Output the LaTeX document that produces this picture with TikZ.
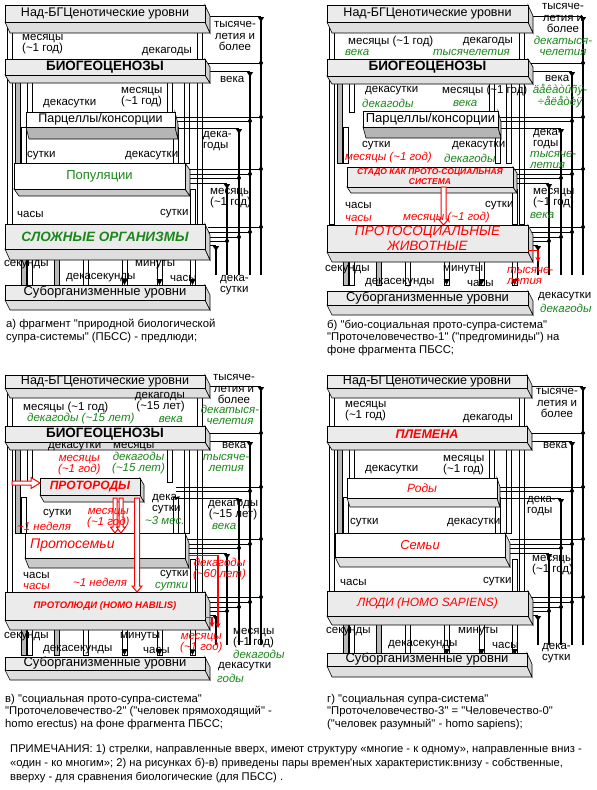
\documentclass[tikz,border=0pt]{standalone}
\usepackage{fontspec}
\defaultfontfeatures[\rmfamily]{}
\setmainfont{Liberation Sans}
\usetikzlibrary{calc,arrows.meta}

\definecolor{grn}{RGB}{25,135,25}

% fonts of the level slabs
\newcommand\fnttop{\fontsize{12.5}{13}\selectfont}
\newcommand\fntbgc{\fontsize{13.5}{14}\selectfont\bfseries}
\newcommand\fntmid{\fontsize{13}{14}\selectfont}
\newcommand\fntorg{\fontsize{13.5}{14}\selectfont\bfseries\itshape}
\newcommand\fntsub{\fontsize{13}{14}\selectfont}
\newcommand\apx{\textasciitilde}

\tikzset{
  lbl/.style={inner sep=0pt, align=left, font=\fontsize{11.5}{11.5}\selectfont},
  glbl/.style={lbl, text=grn, font=\fontsize{11.5}{11}\selectfont\itshape},
  rlbl/.style={lbl, text=red, font=\fontsize{11.5}{11}\selectfont\itshape},
  caption/.style={lbl, font=\fontsize{11.3}{12.5}\selectfont},
  notes/.style={lbl, font=\fontsize{11.2}{14}\selectfont},
  slab/.style={draw, inner sep=0pt, line width=0.6pt},
  slabedge/.style={draw, line width=0.6pt},
  face lt/.style={fill=gray!16}, bottom lt/.style={fill=gray!26}, side lt/.style={fill=gray!36},
  face dk/.style={fill=white}, bottom dk/.style={fill=gray!58}, side dk/.style={fill=gray!45},
  face md/.style={fill=white}, bottom md/.style={fill=gray!42}, side md/.style={fill=gray!36},
  face wl/.style={fill=white}, bottom wl/.style={fill=gray!24}, side wl/.style={fill=gray!32},
  pillar/.style={draw, line width=0.5pt},
  feed/.style={line width=0.6pt},
  busline/.style={line width=2.2pt},
  redhollow/.style={draw=red, fill=white, line width=1pt},
  redline/.style={red, line width=1.2pt, -{Stealth[length=5pt,width=5pt]}},
}

% slab: type, name, x1, y1, x2, y2, depth, text options, text
\newcommand\slab[9]{%
  \filldraw[slabedge, bottom #1] (#3,#6) -- (#5,#6) -- ++(#7) -- ($(#3,#6)+(#7)$) -- cycle;
  \filldraw[slabedge, side #1] (#5,#4) -- ++(#7) -- ($(#5,#6)+(#7)$) -- (#5,#6) -- cycle;
  \node[slab, face #1, minimum width={(#5-#3)*1pt}, minimum height={(#6-#4)*1pt}, #8]
    (#2) at ({(#3+#5)/2},{(#4+#6)/2}) {#9};
}
\newcommand\pillar[4][white]{\filldraw[pillar, fill=#1] (#2,#3) rectangle ({#2+5},#4);}
\newcommand\redpipe[4][2]{%
  \draw[redhollow] ({#2-#1},#3) -- ({#2-#1},{#4-6}) -- ({#2-#1-2.5},{#4-6}) -- (#2,#4)
    -- ({#2+#1+2.5},{#4-6}) -- ({#2+#1},{#4-6}) -- ({#2+#1},#3) -- cycle;}

% columns between the levels
\newcommand\basepillars{%
  \pillar{7}{22}{224}
  \pillar{197}{22}{224}
  \pillar{27}{75}{112}
  \pillar{167}{75}{112}
  \pillar[gray!55]{15}{75}{163}
  \pillar{184}{75}{163}
  \pillar{21}{127}{163}
  \pillar{173}{127}{163}
  \pillar{190}{189}{224}
  \pillar[gray!55]{21}{249}{285}
  \pillar{27}{249}{285}
  \pillar[gray!55]{54}{249}{285}
  \pillar{83}{249}{285}
  \pillar{122}{249}{285}
  \pillar{157}{249}{285}
  \pillar{190}{249}{285}
  \foreach \tx in {124.5,159.5,192.5}
    \fill ({\tx-3},279) -- ({\tx+3},279) -- (\tx,285) -- cycle;
}

% time buses on the right
\newcommand\bus{%
  \foreach \bx/\by/\sx in {261/16/208, 250/71/208, 239/128/176, 227/183/188, 216/245/208}{
    \draw[feed] (\sx,\by) -- (\bx,\by);
    \draw[busline, {Triangle[reversed, width=6pt, length=5pt]}-] (\bx,{\by+1}) -- (\bx,275);
  }
  \foreach \cy/\sx/\bx in {63/208/261, 117/176/261, 121/176/250, 169/188/261, 174/188/250,
      178/188/239, 227/208/261, 232/208/250, 237/208/239, 241/208/227}{
    \draw[feed] (\sx,\cy) -- (\bx,\cy);
    \fill (\bx,\cy) circle (2pt);
  }
}

\begin{document}
\begin{tikzpicture}[x=1pt, y=-1pt, >=Stealth]
\useasboundingbox[fill=white] (0,0) rectangle (597,790);

% a) natural biological supra-system
\begin{scope}
  \basepillars
  \bus
  \slab{lt}{a-top}{5}{5}{205}{22}{5,11}{font=\fnttop}{Над-БГЦенотические уровни}
  \slab{lt}{a-bgc}{5}{59}{205}{75}{5,8}{font=\fntbgc}{БИОГЕОЦЕНОЗЫ}
  \slab{dk}{a-parc}{26}{112}{175}{127}{3,12}{font=\fnttop}{Парцеллы/консорции}
  \slab{md}{a-pop}{14}{163}{185}{189}{5,7}{font=\fntmid, text=grn}{Популяции}
  \slab{lt}{a-org}{5}{224}{205}{249}{5,11}{font=\fntorg, text=grn}{СЛОЖНЫЕ ОРГАНИЗМЫ}
  \slab{lt}{a-sub}{5}{285}{205}{300}{5,10}{font=\fntsub}{Суборганизменные уровни}

  \node[lbl, anchor=west] (a-m1) at (22,44) {месяцы\\(\apx1 год)};
  \node[lbl, anchor=east] (a-d1) at (192,52) {декагоды};
  \node[lbl, align=center] (a-t1) at (235,36) {тысяче-\\летия и\\более};
  \node[lbl, anchor=west] (a-v1) at (220,79) {века};
  \node[lbl, anchor=west] (a-ds1) at (43,104) {декасутки};
  \node[lbl, anchor=west] (a-m2) at (121,97) {месяцы\\(\apx1 год)};
  \node[lbl, anchor=west] (a-dg1) at (203,141) {дека-\\годы};
  \node[lbl, anchor=west] (a-s1) at (27,156) {сутки};
  \node[lbl, anchor=west] (a-ds2) at (125,156) {декасутки};
  \node[lbl, anchor=west] (a-m3) at (210,198) {месяцы\\(\apx1 год)};
  \node[lbl, anchor=west] (a-h1) at (17,214) {часы};
  \node[lbl, anchor=west] (a-s2) at (160,214) {сутки};
  \node[lbl, anchor=west] (a-sec) at (4,265) {секунды};
  \node[lbl, anchor=west] (a-min) at (135,265) {минуты};
  \node[lbl, anchor=west] (a-dsec) at (66,278) {декасекунды};
  \node[lbl, anchor=west] (a-h2) at (170,278) {часы};
  \node[lbl, anchor=west] (a-ds3) at (220,285) {дека-\\сутки};
  \node[caption, anchor=north west] (a-cap) at (6,319) {а) фрагмент "природной биологической\\супра-системы" (ПБСС) - предлюди;};
\end{scope}

% b) bio-social proto-supra-system
\begin{scope}[shift={(322,0)}]
  \basepillars
  \bus
  \slab{lt}{b-top}{5}{5}{206}{22}{5,11}{font=\fnttop}{Над-БГЦенотические уровни}
  \slab{lt}{b-bgc}{5}{59}{206}{76}{5,8}{font=\fntbgc}{БИОГЕОЦЕНОЗЫ}
  \slab{dk}{b-parc}{41}{111}{176}{127}{3,11}{font=\fntsub}{Парцеллы/консорции}
  \slab{lt}{b-herd}{25}{167}{191}{187}{4,6}{font=\fontsize{8.5}{10}\selectfont\bfseries\itshape, text=red, align=center}{СТАДО КАК ПРОТО-СОЦИАЛЬНАЯ\\СИСТЕМА}
  \slab{lt}{b-anim}{5}{225}{206}{252}{5,10}{}{}
  \slab{lt}{b-sub}{5}{291}{206}{305}{5,10}{font=\fntsub}{Суборганизменные уровни}
  \node[inner sep=0pt, align=center, text=red, font=\fontsize{13.5}{15}\selectfont\itshape] (b-animt) at (b-anim) {ПРОТОСОЦИАЛЬНЫЕ\\ЖИВОТНЫЕ};
  \redpipe[2.5]{121.5}{187}{225}
  \draw[redline] (b-anim.south east) ++(0,-2) -| (216,262);

  \node[lbl, anchor=west] (b-m1) at (26,42) {месяцы (\apx1 год)};
  \node[glbl, anchor=west] (b-m1g) at (23,52) {века};
  \node[lbl, anchor=east] (b-d1) at (191,42) {декагоды};
  \node[glbl, anchor=east] (b-d1g) at (188,52) {тысячелетия};
  \node[lbl, align=center] (b-t1) at (241,18) {тысяче-\\летия и\\более};
  \node[glbl, align=center] (b-t1g) at (241,46) {декатыся-\\челетия};
  \node[lbl, anchor=west] (b-v1) at (223,78) {века};
  \node[glbl, align=center] (b-v1g) at (238,96) {äåêàòûñÿ-\\÷åëåòèÿ};
  \node[lbl, anchor=west] (b-ds1) at (43,91) {декасутки};
  \node[glbl, anchor=west] (b-ds1g) at (40,103) {декагоды};
  \node[lbl, anchor=west] (b-m2) at (120,91) {месяцы (\apx1 год)};
  \node[glbl, anchor=west] (b-m2g) at (131,103) {века};
  \node[lbl, anchor=west] (b-dg1) at (211,139) {дека-\\годы};
  \node[glbl, anchor=west] (b-dg1g) at (208,160) {тысяче-\\летия};
  \node[lbl, anchor=west] (b-s1) at (40,146) {сутки};
  \node[rlbl, anchor=west] (b-s1r) at (23,158) {месяцы (\apx1 год)};
  \node[lbl, anchor=west] (b-ds2) at (130,146) {декасутки};
  \node[glbl, anchor=west] (b-ds2g) at (122,158) {декагоды};
  \node[lbl, anchor=west] (b-m3) at (211,198) {месяцы\\(\apx1 год)};
  \node[glbl, anchor=west] (b-m3g) at (208,215) {века};
  \node[lbl, anchor=west] (b-h1) at (23,205.5) {часы};
  \node[rlbl, anchor=west] (b-h1r) at (23,218) {часы};
  \node[lbl, anchor=west] (b-s2) at (163,206) {сутки};
  \node[rlbl, anchor=west] (b-s2r) at (81,218) {месяцы (\apx1 год)};
  \node[lbl, anchor=west] (b-sec) at (3,270) {секунды};
  \node[lbl, anchor=west] (b-min) at (121,270) {минуты};
  \node[lbl, anchor=west] (b-dsec) at (43,283) {декасекунды};
  \node[lbl, anchor=west] (b-h2) at (145,283) {часы};
  \node[rlbl, anchor=west] (b-t2) at (185,276) {тысяче-\\летия};
  \node[lbl, anchor=west] (b-ds3) at (216,297) {декасутки};
  \node[glbl, anchor=west] (b-ds3g) at (218,308) {декагоды};
  \node[caption, anchor=north west] (b-cap) at (5,320) {б) "био-социальная прото-супра-система"\\"Проточеловечество-1" ("предгоминиды") на\\фоне фрагмента ПБСС;};
\end{scope}

% c) social proto-supra-system
\begin{scope}[shift={(0,370)}]
  \basepillars
  \bus
  \slab{lt}{c-top}{5}{5}{205}{18}{5,10}{font=\fnttop}{Над-БГЦенотические уровни}
  \slab{lt}{c-bgc}{5}{56}{205}{72}{5,8}{font=\fntbgc}{БИОГЕОЦЕНОЗЫ}
  \slab{lt}{c-clan}{40}{108}{140}{125}{4,7}{font=\fontsize{12}{13}\selectfont\bfseries\itshape, text=red}{ПРОТОРОДЫ}
  \slab{md}{c-fam}{25}{163}{185}{188}{4,10}{}{}
  \slab{lt}{c-hum}{5}{222}{205}{250}{5,10}{font=\fontsize{9.5}{10}\selectfont\bfseries\itshape, text=red}{ПРОТОЛЮДИ (HOMO HABILIS)}
  \slab{lt}{c-sub}{5}{287}{205}{300}{5,10}{font=\fntsub}{Суборганизменные уровни}
  \node[inner sep=0pt, anchor=west, text=red, font=\fontsize{14}{15}\selectfont\itshape] (c-famt) at (30,175) {Протосемьи};
  \redpipe{115}{128}{163}
  \redpipe{121}{128}{163}
  \redpipe[2.5]{137}{128}{222}
  \draw[redhollow] (12,111) -- (31,111) -- (31,107.5) -- (40,113) -- (31,118.5) -- (31,115) -- (12,115) -- cycle;
  \draw[redline] (c-fam.east) ++(4,10) -| (218,258);
  \draw[redline] (c-hum.south east) ++(0,-3) -| (212,257);

  \node[lbl, anchor=west] (c-m1) at (23,38) {месяцы (\apx1 год)};
  \node[glbl, anchor=west] (c-m1g) at (27,49) {декагоды (\apx15 лет)};
  \node[lbl, anchor=east, align=right] (c-d1) at (185,32) {декагоды\\(\apx15 лет)};
  \node[glbl, anchor=east] (c-d1g) at (183,49) {века};
  \node[lbl, align=center] (c-t1) at (234,19) {тысяче-\\летия и\\более};
  \node[glbl, align=center] (c-t1g) at (230,45) {декатыся-\\челетия};
  \node[lbl, anchor=west] (c-ds1) at (48,77) {декасутки};
  \node[lbl, anchor=west] (c-m2) at (113,77) {месяцы};
  \node[rlbl, anchor=west, align=center] (c-m2r) at (58,95) {месяцы\\(\apx1 год)};
  \node[glbl, anchor=west, align=center] (c-m2g) at (112,93) {декагоды\\(\apx15 лет)};
  \node[lbl, anchor=west] (c-v1) at (222,75) {века};
  \node[glbl, anchor=west, align=center] (c-v1g) at (203,93) {тысяче-\\летия};
  \node[lbl, anchor=west] (c-ds2) at (152,134) {дека-\\сутки};
  \node[glbl, anchor=west] (c-ds2g) at (145,151) {\apx3 мес.};
  \node[lbl, anchor=west, align=center] (c-dg1) at (208,140) {декагоды\\(\apx15 лет)};
  \node[glbl, anchor=west] (c-dg1g) at (212,156) {века};
  \node[lbl, anchor=west] (c-s1) at (43,144) {сутки};
  \node[rlbl, anchor=west] (c-s1r) at (17,156) {\apx1 неделя};
  \node[rlbl, anchor=west, align=center] (c-m3r) at (87,148) {месяцы\\(\apx1 год)};
  \node[lbl, anchor=west] (c-h1) at (23,205) {часы};
  \node[rlbl, anchor=west] (c-h1r) at (23,216) {часы};
  \node[rlbl, anchor=west] (c-w1) at (73,212) {\apx1 неделя};
  \node[lbl, anchor=west] (c-s2) at (160,205) {сутки};
  \node[glbl, anchor=west] (c-s2g) at (155,217) {сутки};
  \node[rlbl, anchor=west, align=center] (c-dg2r) at (193,199) {декагоды\\(\apx60 лет)};
  \node[lbl, anchor=west] (c-sec) at (4,267) {секунды};
  \node[lbl, anchor=west] (c-min) at (120,267) {минуты};
  \node[lbl, anchor=west] (c-dsec) at (43,280) {декасекунды};
  \node[lbl, anchor=west] (c-h2) at (143,280) {часы};
  \node[rlbl, anchor=west, align=center] (c-m4r) at (180,273) {месяцы\\(\apx1 год)};
  \node[lbl, anchor=west] (c-m4) at (233,268) {месяцы\\(\apx1 год)};
  \node[glbl, anchor=west] (c-m4g) at (233,284) {декагоды};
  \node[lbl, anchor=west] (c-ds3) at (218,297) {декасутки};
  \node[glbl, anchor=west] (c-ds3g) at (217,308) {годы};
  \node[caption, anchor=north west] (c-cap) at (5,324) {в) "социальная прото-супра-система"\\"Проточеловечество-2" ("человек прямоходящий" -\\homo erectus) на фоне фрагмента ПБСС;};
\end{scope}

% d) social supra-system
\begin{scope}[shift={(322,370)}]
  \basepillars
  \bus
  \slab{lt}{d-top}{5}{5}{205}{18}{5,10}{font=\fnttop}{Над-БГЦенотические уровни}
  \slab{lt}{d-trb}{5}{56}{205}{72}{5,8}{font=\fontsize{12.5}{13}\selectfont\bfseries\itshape, text=red}{ПЛЕМЕНА}
  \slab{wl}{d-clan}{25}{108}{175}{128}{3,9}{font=\fontsize{12}{13}\selectfont\itshape, text=red}{Роды}
  \slab{wl}{d-fam}{13}{163}{183}{187}{5,10}{font=\fontsize{13}{14}\selectfont\itshape, text=red}{Семьи}
  \slab{lt}{d-hum}{5}{221}{206}{246}{5,9}{font=\fontsize{12}{13}\selectfont\itshape, text=red}{ЛЮДИ (HOMO SAPIENS)}
  \slab{lt}{d-sub}{5}{283}{205}{296}{5,11}{font=\fntsub}{Суборганизменные уровни}

  \node[lbl, anchor=west] (d-m1) at (23,41) {месяцы\\(\apx1 год)};
  \node[lbl, anchor=east] (d-d1) at (191,49) {декагоды};
  \node[lbl, align=center] (d-t1) at (235,33) {тысяче-\\летия и\\более};
  \node[lbl, anchor=west] (d-v1) at (221,75) {века};
  \node[lbl, anchor=west] (d-ds1) at (43,100) {декасутки};
  \node[lbl, anchor=west] (d-m2) at (121,95) {месяцы\\(\apx1 год)};
  \node[lbl, anchor=west] (d-dg1) at (205,136) {дека-\\годы};
  \node[lbl, anchor=west] (d-s1) at (28,153) {сутки};
  \node[lbl, anchor=west] (d-ds2) at (125,153) {декасутки};
  \node[lbl, anchor=west] (d-m3) at (210,195) {месяцы\\(\apx1 год)};
  \node[lbl, anchor=west] (d-h1) at (18,212) {часы};
  \node[lbl, anchor=west] (d-s2) at (161,212) {сутки};
  \node[lbl, anchor=west] (d-sec) at (4,262) {секунды};
  \node[lbl, anchor=west] (d-min) at (136,262) {минуты};
  \node[lbl, anchor=west] (d-dsec) at (66,275) {декасекунды};
  \node[lbl, anchor=west] (d-h2) at (170,275) {часы};
  \node[lbl, anchor=west] (d-ds3) at (220,283) {дека-\\сутки};
  \node[caption, anchor=north west] (d-cap) at (5,324) {г) "социальная супра-система"\\"Проточеловечество-3" = "Человечество-0"\\("человек разумный" - homo sapiens);};
\end{scope}

% notes
\node[notes, anchor=north west] (notes) at (10,744) {ПРИМЕЧАНИЯ: 1) стрелки, направленные вверх, имеют структуру «многие - к одному», направленные вниз -\\«один - ко многим»; 2) на рисунках б)-в) приведены пары времен'ных характеристик:внизу - собственные,\\вверху - для сравнения биологические (для ПБСС) .};
\end{tikzpicture}
\end{document}
